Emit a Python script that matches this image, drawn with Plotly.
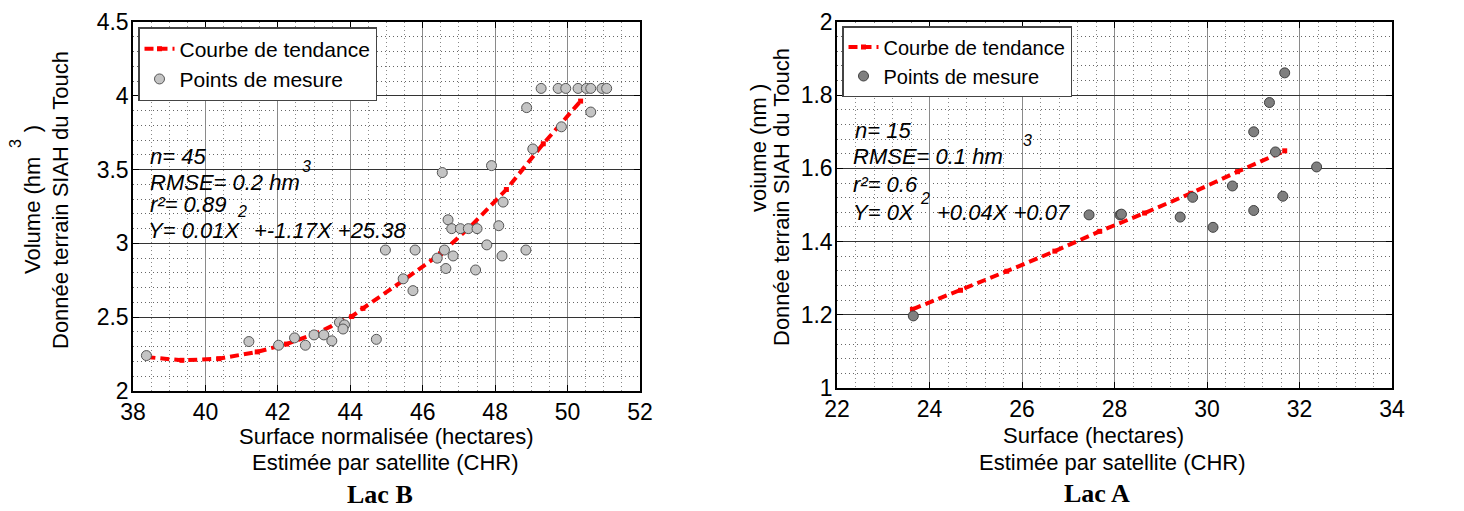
import plotly.graph_objects as go

W, H = 1464, 511

# ---------------- Lac B data ----------------
lacB_x = [38.37, 41.20, 42.02, 42.46, 42.76, 43.00, 43.27, 43.49, 43.70, 43.84, 43.80,
          44.72, 44.97, 45.79, 46.60, 48.85, 45.46, 45.73, 46.40, 46.84, 48.19, 46.64,
          47.46, 47.77, 46.70, 48.10, 46.80, 47.04, 47.26, 47.50, 48.22, 46.54, 47.90,
          49.04, 49.83, 48.87, 50.64, 49.27, 49.74, 49.95, 50.29, 50.52, 50.64, 50.95, 51.08]
lacB_y = [2.24, 2.335, 2.31, 2.36, 2.31, 2.38, 2.38, 2.34, 2.466, 2.448, 2.42,
          2.35, 2.955, 2.955, 2.955, 2.955, 2.76, 2.68, 2.90, 2.915, 2.915, 2.83,
          2.82, 2.99, 3.16, 3.12, 3.10, 3.10, 3.10, 3.10, 3.28, 3.48, 3.527,
          3.64, 3.79, 3.92, 3.89, 4.05, 4.05, 4.05, 4.05, 4.05, 4.05, 4.05, 4.05]
lacB_trend_x = [38.37, 39.35, 40.37, 41.43, 42.24, 43.06, 44.04, 44.35, 45.47, 46.49,
                47.30, 48.31, 49.33, 50.36]
lacB_trend_y = [2.23, 2.208, 2.219, 2.265, 2.318, 2.39, 2.505, 2.56, 2.75, 2.93,
                3.11, 3.365, 3.675, 3.964]

# ---------------- Lac A data ----------------
lacA_x = [23.65, 27.45, 28.12, 28.15, 29.42, 29.69, 30.13, 30.55, 31.01, 31.01,
          31.35, 31.48, 31.64, 31.68, 32.37]
lacA_y = [1.197, 1.473, 1.473, 1.475, 1.467, 1.521, 1.439, 1.552, 1.485, 1.70,
          1.78, 1.645, 1.524, 1.861, 1.604]
lacA_trend_x = [23.63, 24.67, 25.67, 26.71, 27.68, 28.65, 29.65, 30.66, 31.68]
lacA_trend_y = [1.215, 1.267, 1.319, 1.374, 1.428, 1.478, 1.532, 1.591, 1.648]

legend_names = ["Courbe de tendance", "Points de mesure"]

FONT = "Liberation Sans, Arial, sans-serif"
SERIF = "Liberation Serif, Times New Roman, serif"
RED = "#ff0000"


def px(x):
    return x / W


def py(y):
    return 1 - y / H


fig = go.Figure()

# Lac B
fig.add_trace(go.Scatter(x=lacB_trend_x, y=lacB_trend_y, mode="lines+markers",
                         name=legend_names[0], xaxis="x", yaxis="y", legend="legend",
                         line=dict(color=RED, width=4, dash="9px,5px"),
                         marker=dict(symbol="square", size=5, color=RED)))
fig.add_trace(go.Scatter(x=lacB_x, y=lacB_y, mode="markers",
                         name=legend_names[1], xaxis="x", yaxis="y", legend="legend",
                         marker=dict(size=10, color="#c4c4c4",
                                     line=dict(color="#555555", width=1))))
# Lac A
fig.add_trace(go.Scatter(x=lacA_trend_x, y=lacA_trend_y, mode="lines+markers",
                         name=legend_names[0], xaxis="x2", yaxis="y2", legend="legend2",
                         line=dict(color=RED, width=4, dash="9px,5px"),
                         marker=dict(symbol="square", size=5, color=RED)))
fig.add_trace(go.Scatter(x=lacA_x, y=lacA_y, mode="markers",
                         name=legend_names[1], xaxis="x2", yaxis="y2", legend="legend2",
                         marker=dict(size=10, color="#7f7f7f",
                                     line=dict(color="#404040", width=1))))

tickfont = dict(family=FONT, size=23, color="black")


def xax(domain, rng, dtick, mdtick, anchor):
    return dict(domain=domain, range=rng, dtick=dtick, tick0=rng[0], anchor=anchor,
                automargin=False,
                showgrid=True, gridcolor="#8a8a8a", gridwidth=1.2,
                minor=dict(dtick=mdtick, showgrid=True, gridcolor="#888888",
                           griddash="1px,3px", gridwidth=1, ticks=""),
                ticks="inside", ticklen=6, tickcolor="black",
                showline=True, linecolor="black", linewidth=1.5, mirror="ticks",
                zeroline=False, tickfont=tickfont)


def yax(domain, rng, dtick, mdtick, anchor):
    return dict(domain=domain, range=rng, dtick=dtick, tick0=rng[0], anchor=anchor,
                automargin=False,
                showgrid=True, gridcolor="#333333", gridwidth=1.2,
                minor=dict(dtick=mdtick, showgrid=True, gridcolor="#666666",
                           griddash="1px,3px", gridwidth=1, ticks=""),
                ticks="inside", ticklen=6, tickcolor="black",
                showline=True, linecolor="black", linewidth=1.5, mirror="ticks",
                zeroline=False, tickfont=tickfont, ticklabelstandoff=-2)


fig.update_layout(
    width=W, height=H,
    margin=dict(l=0, r=0, t=0, b=0, autoexpand=False),
    paper_bgcolor="white", plot_bgcolor="white",
    font=dict(family=FONT, size=22, color="black"),
    xaxis=xax([px(133), px(640)], [38, 52], 2, 0.5, "y"),
    yaxis=yax([py(391), py(22)], [2, 4.5], 0.5, 0.1, "x"),
    xaxis2=xax([px(837), px(1392)], [22, 34], 2, 0.4, "y2"),
    yaxis2=yax([py(388), py(22)], [1, 2], 0.2, 0.04, "x2"),
    legend=dict(x=px(138), y=py(27), xanchor="left", yanchor="top",
                bgcolor="white", bordercolor="#444444", borderwidth=1.5,
                font=dict(family=FONT, size=21), itemwidth=30,
                tracegroupgap=0),
    legend2=dict(x=px(842), y=py(26), xanchor="left", yanchor="top",
                 bgcolor="white", bordercolor="#444444", borderwidth=1.5,
                 font=dict(family=FONT, size=20), itemwidth=30,
                 tracegroupgap=0),
    showlegend=True,
)

ann = []


def text(t, x, y, size=22, xanchor="left", angle=0, family=FONT):
    ann.append(dict(text=t, x=px(x), y=py(y), xref="paper", yref="paper",
                    xanchor=xanchor, yanchor="middle", showarrow=False,
                    textangle=angle, font=dict(family=family, size=size, color="black")))


# Lac B statistics
text("<i>n= 45</i>", 148, 157)
text("<i>RMSE= 0.2 hm</i>", 148, 182)
text("<i>3</i>", 306, 166, size=16, xanchor="center")
text("<i>r²= 0.89</i>", 148, 204)
text("<i>Y= 0.01X</i>", 146, 230)
text("<i>2</i>", 242, 211, size=16, xanchor="center")
text("<i>+-1.17X +25.38</i>", 252, 230)

# Lac A statistics
text("<i>n= 15</i>", 853, 130)
text("<i>RMSE= 0.1 hm</i>", 851, 156)
text("<i>3</i>", 1027, 141, size=16, xanchor="center")
text("<i>r²= 0.6</i>", 851, 184)
text("<i>Y= 0X</i>", 851, 213)
text("<i>2</i>", 925, 198, size=16, xanchor="center")
text("<i>+0.04X +0.07</i>", 935, 213)

# axis titles Lac B
text("Surface normalisée (hectares)", 386, 436, xanchor="center")
text("Estimée par satellite (CHR)", 385, 462, xanchor="center")
text("Volume (hm    )", 32, 200, xanchor="center", angle=-90)
text("3", 15, 143, size=16, xanchor="center", angle=-90)
text("Donnée terrain SIAH du Touch", 60, 200, xanchor="center", angle=-90)

# axis titles Lac A
text("Surface (hectares)", 1093, 435, xanchor="center")
text("Estimée par satellite (CHR)", 1112, 462, xanchor="center")
text("voiume (nm )", 758, 148, xanchor="center", angle=-90)
text("Donnée terrain SIAH du Touch", 782, 197, xanchor="center", angle=-90)

# panel labels
text("<b>Lac B</b>", 380, 494, size=26, xanchor="center", family=SERIF)
text("<b>Lac A</b>", 1097, 493, size=26, xanchor="center", family=SERIF)

fig.update_layout(annotations=ann)

fig.write_html("out.html", config={"displayModeBar": False},
               post_script="document.body.style.margin='0px';")
